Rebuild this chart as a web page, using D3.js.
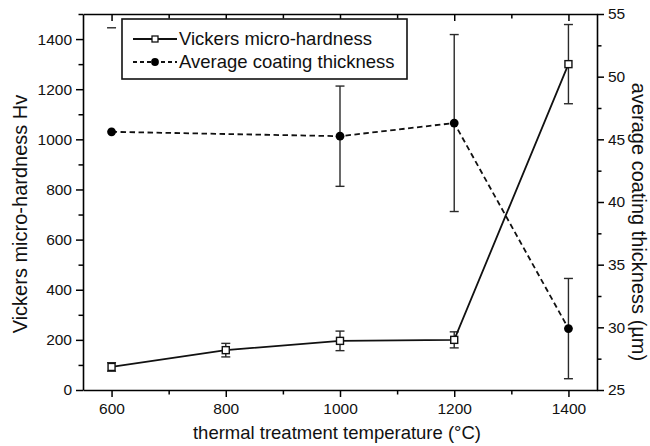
<!DOCTYPE html>
<html>
<head>
<meta charset="utf-8">
<script src="https://cdn.jsdelivr.net/npm/d3@7"></script>
<style>
  html, body { margin: 0; padding: 0; background: #fff; }
  svg { display: block; font-family: "Liberation Sans", Arial, sans-serif; }
</style>
</head>
<body>
<svg id="chart" width="650" height="446"></svg>
<script>
// ---- data ----
const temperatures = [600, 800, 1000, 1200, 1400];
const hardness = [92, 159, 196, 200, 1300];
const hardnessErr = [17, 27, 39, 32, 158];
const thickness = [45.6, 45.25, 46.3, 29.9];
const thicknessTemps = [600, 1000, 1200, 1400];
const thicknessErr = [0, 4.0, 7.06, 4.0];
const strayCapTemps = [600];
const strayCapValues = [53.9];
const xTickLabels = [600, 800, 1000, 1200, 1400];
const yLeftTicks = [0, 200, 400, 600, 800, 1000, 1200, 1400];
const yRightTicks = [25, 30, 35, 40, 45, 50, 55];
const legendLabels = ["Vickers micro-hardness", "Average coating thickness"];

// ---- layout ----
const svg = d3.select("#chart");
const L = 83, R = 597, T = 14, B = 390;
const x = d3.scaleLinear().domain([550, 1450]).range([L, R]);
const yL = d3.scaleLinear().domain([0, 1500]).range([B, T]);
const yR = d3.scaleLinear().domain([25, 55]).range([B, T]);
const fmt = d3.format("d");

const tickFont = "15.5px";
const titleFont = "18.5px";
const vTitleFont = "20px";
const ink = "#111";

function styleAxis(g) {
  g.selectAll(".domain").attr("stroke", "#000").attr("stroke-width", 1.6);
  g.selectAll(".tick line").attr("stroke", "#000").attr("stroke-width", 1.5);
  g.selectAll(".tick text").attr("fill", ink).style("font-size", tickFont)
    .style("font-family", '"Liberation Sans", Arial, sans-serif');
}

const minorX = d3.range(700, 1450, 200);

// bottom axis
const gB = svg.append("g").attr("transform", `translate(0,${B})`)
  .call(d3.axisBottom(x).tickValues(xTickLabels).tickFormat(fmt).tickSize(7).tickPadding(6).tickSizeOuter(0));
styleAxis(gB);
svg.append("g").attr("transform", `translate(0,${B})`)
  .call(d3.axisBottom(x).tickValues(minorX).tickSize(4.5).tickFormat("").tickSizeOuter(0))
  .call(g => { g.select(".domain").remove(); styleAxis(g); });

// top axis: inward ticks, no labels
const gT = svg.append("g").attr("transform", `translate(0,${T})`)
  .call(d3.axisTop(x).tickValues(xTickLabels).tickSize(-7).tickFormat("").tickSizeOuter(0));
styleAxis(gT);
svg.append("g").attr("transform", `translate(0,${T})`)
  .call(d3.axisTop(x).tickValues(minorX).tickSize(-4.5).tickFormat("").tickSizeOuter(0))
  .call(g => { g.select(".domain").remove(); styleAxis(g); });

// left axis
const gLft = svg.append("g").attr("transform", `translate(${L},0)`)
  .call(d3.axisLeft(yL).tickValues(yLeftTicks).tickFormat(fmt).tickSize(7).tickPadding(4).tickSizeOuter(0));
styleAxis(gLft);
svg.append("g").attr("transform", `translate(${L},0)`)
  .call(d3.axisLeft(yL).tickValues(d3.range(100, 1600, 200)).tickSize(4.5).tickFormat("").tickSizeOuter(0))
  .call(g => { g.select(".domain").remove(); styleAxis(g); });

// right axis
const gRt = svg.append("g").attr("transform", `translate(${R},0)`)
  .call(d3.axisRight(yR).tickValues(yRightTicks).tickFormat(fmt).tickSize(7).tickPadding(4).tickSizeOuter(0));
styleAxis(gRt);
svg.append("g").attr("transform", `translate(${R},0)`)
  .call(d3.axisRight(yR).tickValues(d3.range(27.5, 55, 5)).tickSize(4.5).tickFormat("").tickSizeOuter(0))
  .call(g => { g.select(".domain").remove(); styleAxis(g); });

// axis titles
svg.append("text").attr("x", (L + R) / 2 - 3).attr("y", 439)
  .attr("text-anchor", "middle").style("font-size", titleFont).attr("fill", ink)
  .text("thermal treatment temperature (°C)");
svg.append("text").attr("transform", `translate(27,214) rotate(-90)`)
  .attr("text-anchor", "middle").style("font-size", vTitleFont).attr("fill", ink)
  .text("Vickers micro-hardness Hv");
svg.append("text").attr("transform", `translate(632,222) rotate(90)`)
  .attr("text-anchor", "middle").style("font-size", vTitleFont).attr("fill", ink)
  .text("average coating thickness (µm)");

// ---- data marks ----
const hData = temperatures.map((t, i) => ({ t, v: hardness[i], e: hardnessErr[i] }));
const tData = thicknessTemps.map((t, i) => ({ t, v: thickness[i], e: thicknessErr[i] }));
const capW = 4.5;
const errColor = "#2a2a2a";

function errorBars(data, y) {
  const g = svg.append("g").attr("stroke", errColor).attr("stroke-width", 1.4);
  data.filter(d => d.e > 0).forEach(d => {
    const xx = x(d.t), y1 = y(d.v + d.e), y0 = y(d.v - d.e);
    g.append("line").attr("x1", xx).attr("x2", xx).attr("y1", y1).attr("y2", y0);
    g.append("line").attr("x1", xx - capW).attr("x2", xx + capW).attr("y1", y1).attr("y2", y1);
    g.append("line").attr("x1", xx - capW).attr("x2", xx + capW).attr("y1", y0).attr("y2", y0);
  });
}

errorBars(tData, yR);
errorBars(hData, yL);

// stray cap seen at 600 near the top
svg.append("g").attr("stroke", errColor).attr("stroke-width", 1.4)
  .selectAll("line").data(strayCapTemps.map((t, i) => ({ t, v: strayCapValues[i] })))
  .join("line")
  .attr("x1", d => x(d.t) - capW).attr("x2", d => x(d.t) + capW)
  .attr("y1", d => yR(d.v)).attr("y2", d => yR(d.v));

// thickness dashed line
svg.append("path").datum(tData)
  .attr("fill", "none").attr("stroke", ink).attr("stroke-width", 1.8)
  .attr("stroke-dasharray", "5.5,3.5")
  .attr("d", d3.line().x(d => x(d.t)).y(d => yR(d.v)));

// hardness solid line
svg.append("path").datum(hData)
  .attr("fill", "none").attr("stroke", ink).attr("stroke-width", 1.8)
  .attr("d", d3.line().x(d => x(d.t)).y(d => yL(d.v)));

// markers
const sq = 7;
svg.append("g").selectAll("rect").data(hData).join("rect")
  .attr("x", d => x(d.t) - sq / 2).attr("y", d => yL(d.v) - sq / 2)
  .attr("width", sq).attr("height", sq)
  .attr("fill", "#fff").attr("stroke", ink).attr("stroke-width", 1.4);
svg.append("g").selectAll("circle").data(tData).join("circle")
  .attr("cx", d => x(d.t)).attr("cy", d => yR(d.v)).attr("r", 4.4)
  .attr("fill", "#000");

// ---- legend ----
const lg = svg.append("g");
lg.append("rect").attr("x", 122).attr("y", 19).attr("width", 285).attr("height", 60)
  .attr("fill", "#fff").attr("stroke", ink).attr("stroke-width", 1.6);
const ly = [39, 62];
lg.append("line").attr("x1", 133).attr("x2", 177).attr("y1", ly[0]).attr("y2", ly[0])
  .attr("stroke", ink).attr("stroke-width", 1.8);
lg.append("rect").attr("x", 155 - 3).attr("y", ly[0] - 3).attr("width", 6).attr("height", 6)
  .attr("fill", "#fff").attr("stroke", ink).attr("stroke-width", 1.3);
lg.append("line").attr("x1", 133).attr("x2", 177).attr("y1", ly[1]).attr("y2", ly[1])
  .attr("stroke", ink).attr("stroke-width", 1.8).attr("stroke-dasharray", "4,3");
lg.append("circle").attr("cx", 155).attr("cy", ly[1]).attr("r", 3.9).attr("fill", "#000");
legendLabels.forEach((lab, i) => {
  lg.append("text").attr("x", 179).attr("y", ly[i]).attr("dy", "0.35em")
    .style("font-size", titleFont).attr("fill", ink).text(lab);
});
</script>
</body>
</html>
